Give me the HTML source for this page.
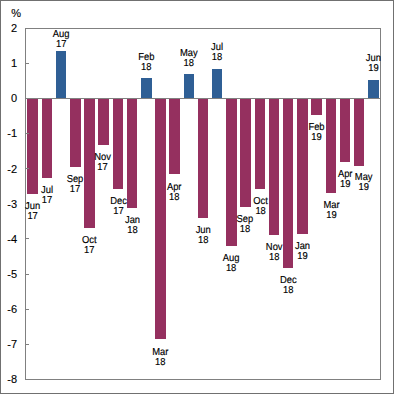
<!DOCTYPE html>
<html><head><meta charset="utf-8"><style>
html,body{margin:0;padding:0;background:#fff;}
svg{display:block;}
text{font-family:"Liberation Sans",sans-serif;}
</style></head><body>
<svg width="394" height="394" viewBox="0 0 394 394">
<rect x="0" y="0" width="394" height="394" fill="#fff"/>
<rect x="0.5" y="0.5" width="393" height="393" fill="none" stroke="#707070" stroke-width="1"/>
<g stroke="#808080" stroke-width="1" fill="none" shape-rendering="crispEdges">
<rect x="25.5" y="28.5" width="355" height="351"/>
</g>
<g shape-rendering="crispEdges">
<rect x="27" y="99" width="11" height="94.80" fill="#95305F"/><rect x="42" y="99" width="10" height="78.90" fill="#95305F"/><rect x="56" y="50.9" width="10" height="47.10" fill="#2F5F95"/><rect x="70" y="99" width="11" height="67.60" fill="#95305F"/><rect x="84" y="99" width="11" height="128.70" fill="#95305F"/><rect x="98" y="99" width="11" height="45.80" fill="#95305F"/><rect x="113" y="99" width="10" height="89.60" fill="#95305F"/><rect x="127" y="99" width="10" height="108.50" fill="#95305F"/><rect x="141" y="77.9" width="11" height="20.10" fill="#2F5F95"/><rect x="155" y="99" width="11" height="239.90" fill="#95305F"/><rect x="169" y="99" width="11" height="74.60" fill="#95305F"/><rect x="184" y="74.0" width="10" height="24.00" fill="#2F5F95"/><rect x="198" y="99" width="10" height="118.80" fill="#95305F"/><rect x="212" y="69.0" width="10" height="29.00" fill="#2F5F95"/><rect x="226" y="99" width="11" height="146.70" fill="#95305F"/><rect x="240" y="99" width="11" height="108.00" fill="#95305F"/><rect x="255" y="99" width="10" height="89.90" fill="#95305F"/><rect x="269" y="99" width="10" height="135.80" fill="#95305F"/><rect x="283" y="99" width="10" height="168.70" fill="#95305F"/><rect x="297" y="99" width="11" height="134.80" fill="#95305F"/><rect x="311" y="99" width="11" height="15.70" fill="#95305F"/><rect x="326" y="99" width="10" height="93.60" fill="#95305F"/><rect x="340" y="99" width="10" height="62.60" fill="#95305F"/><rect x="354" y="99" width="10" height="66.80" fill="#95305F"/><rect x="368" y="80.0" width="11" height="18.00" fill="#2F5F95"/>
</g>
<g stroke="#808080" stroke-width="1" fill="none" shape-rendering="crispEdges">
<line x1="25" y1="98.5" x2="380" y2="98.5"/>
<line x1="25" y1="63.5" x2="29" y2="63.5"/><line x1="25" y1="133.5" x2="29" y2="133.5"/><line x1="25" y1="168.5" x2="29" y2="168.5"/><line x1="25" y1="203.5" x2="29" y2="203.5"/><line x1="25" y1="238.5" x2="29" y2="238.5"/><line x1="25" y1="274.5" x2="29" y2="274.5"/><line x1="25" y1="309.5" x2="29" y2="309.5"/><line x1="25" y1="344.5" x2="29" y2="344.5"/>
</g>
<g font-size="11" text-anchor="end" fill="#000" stroke="#000" stroke-width="0.12">
<text x="21" y="17">%</text>
<text x="17" y="31.5">2</text><text x="17" y="66.6">1</text><text x="17" y="101.7">0</text><text x="17" y="136.8">-1</text><text x="17" y="172.9">-2</text><text x="17" y="208.0">-3</text><text x="17" y="243.1">-4</text><text x="17" y="278.2">-5</text><text x="17" y="313.3">-6</text><text x="17" y="348.4">-7</text><text x="17" y="382.5">-8</text>
</g>
<g font-size="9.4" text-anchor="middle" fill="#000" style="text-rendering:geometricPrecision" stroke="#000" stroke-width="0.15">
<text transform="translate(32.6,209) scale(1,1.072)">Jun</text><text transform="translate(32.6,219) scale(1,1.072)">17</text><text transform="translate(47.0,193) scale(1,1.072)">Jul</text><text transform="translate(47.0,203) scale(1,1.072)">17</text><text transform="translate(61.2,37) scale(1,1.072)">Aug</text><text transform="translate(61.2,47) scale(1,1.072)">17</text><text transform="translate(75.0,182) scale(1,1.072)">Sep</text><text transform="translate(75.0,192) scale(1,1.072)">17</text><text transform="translate(89.3,243) scale(1,1.072)">Oct</text><text transform="translate(89.3,253) scale(1,1.072)">17</text><text transform="translate(102.55,160) scale(1,1.072)">Nov</text><text transform="translate(102.55,170) scale(1,1.072)">17</text><text transform="translate(118.5,204) scale(1,1.072)">Dec</text><text transform="translate(118.5,214) scale(1,1.072)">17</text><text transform="translate(132.5,223) scale(1,1.072)">Jan</text><text transform="translate(132.5,233) scale(1,1.072)">18</text><text transform="translate(146.3,60) scale(1,1.072)">Feb</text><text transform="translate(146.3,70) scale(1,1.072)">18</text><text transform="translate(160.3,355) scale(1,1.072)">Mar</text><text transform="translate(160.3,365) scale(1,1.072)">18</text><text transform="translate(174.2,190) scale(1,1.072)">Apr</text><text transform="translate(174.2,200) scale(1,1.072)">18</text><text transform="translate(188.8,56) scale(1,1.072)">May</text><text transform="translate(188.8,66) scale(1,1.072)">18</text><text transform="translate(203.2,233) scale(1,1.072)">Jun</text><text transform="translate(203.2,243) scale(1,1.072)">18</text><text transform="translate(217.0,50) scale(1,1.072)">Jul</text><text transform="translate(217.0,60) scale(1,1.072)">18</text><text transform="translate(231.1,261) scale(1,1.072)">Aug</text><text transform="translate(231.1,271) scale(1,1.072)">18</text><text transform="translate(244.9,222) scale(1,1.072)">Sep</text><text transform="translate(244.9,232) scale(1,1.072)">18</text><text transform="translate(260.6,204) scale(1,1.072)">Oct</text><text transform="translate(260.6,214) scale(1,1.072)">18</text><text transform="translate(274.2,250) scale(1,1.072)">Nov</text><text transform="translate(274.2,260) scale(1,1.072)">18</text><text transform="translate(288.3,283) scale(1,1.072)">Dec</text><text transform="translate(288.3,293) scale(1,1.072)">18</text><text transform="translate(302.5,249) scale(1,1.072)">Jan</text><text transform="translate(302.5,259) scale(1,1.072)">19</text><text transform="translate(316.5,130) scale(1,1.072)">Feb</text><text transform="translate(316.5,140) scale(1,1.072)">19</text><text transform="translate(331.5,208) scale(1,1.072)">Mar</text><text transform="translate(331.5,218) scale(1,1.072)">19</text><text transform="translate(345.2,177) scale(1,1.072)">Apr</text><text transform="translate(345.2,187) scale(1,1.072)">19</text><text transform="translate(363.7,180) scale(1,1.072)">May</text><text transform="translate(363.7,190) scale(1,1.072)">19</text><text transform="translate(373.4,61) scale(1,1.072)">Jun</text><text transform="translate(373.4,71) scale(1,1.072)">19</text>
</g>
</svg>
</body></html>
